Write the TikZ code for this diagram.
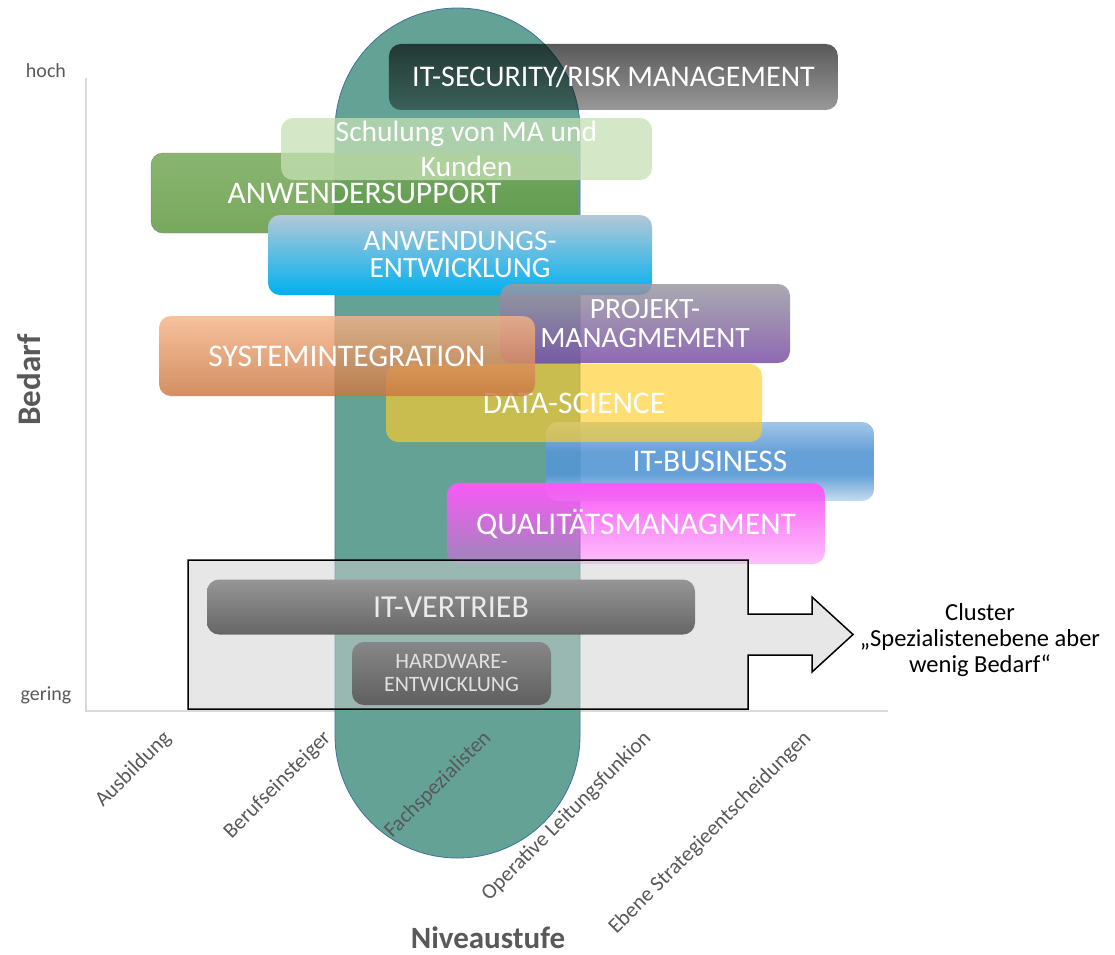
\documentclass[tikz,border=0pt]{standalone}
\usepackage{fontspec}
\setmainfont{Carlito}
\usetikzlibrary{fadings}
\definecolor{axisgray}{RGB}{89,89,89}
\definecolor{axisline}{RGB}{217,217,217}
\definecolor{stadiumteal}{RGB}{100,162,150}
\definecolor{stadiumedge}{RGB}{65,113,156}
\definecolor{supA}{RGB}{117,168,88}
\definecolor{supB}{RGB}{168,192,146}
\definecolor{supC}{RGB}{96,153,64}
\definecolor{schulung}{RGB}{197,224,180}
\definecolor{entwA}{RGB}{180,200,215}
\definecolor{entwB}{RGB}{0,176,240}
\definecolor{projA}{RGB}{155,155,162}
\definecolor{projB}{RGB}{140,118,170}
\definecolor{projC}{RGB}{122,78,168}
\definecolor{sysA}{RGB}{244,180,136}
\definecolor{sysC}{RGB}{202,118,64}
\definecolor{datasci}{RGB}{255,204,40}
\definecolor{busA}{RGB}{150,192,230}
\definecolor{busB}{RGB}{85,150,212}
\definecolor{busC}{RGB}{192,216,238}
\definecolor{qual}{RGB}{250,90,245}
\definecolor{vertA}{RGB}{150,150,150}
\definecolor{vertC}{RGB}{102,102,102}
\definecolor{hwA}{RGB}{135,135,135}
\definecolor{hwC}{RGB}{95,95,95}
\definecolor{clusterfill}{RGB}{207,207,207}
\tikzfading[name=fadedown, top color=transparent!0, middle color=transparent!5, bottom color=transparent!62]
\tikzfading[name=fadesec, top color=transparent!35, middle color=transparent!0, bottom color=transparent!60]
\pgfdeclareverticalshading{busshade}{100bp}{color(0bp)=(busC); color(25bp)=(busC); color(42bp)=(busB); color(56bp)=(busB); color(75bp)=(busA); color(100bp)=(busA)}
\begin{document}
\begin{tikzpicture}[x=1pt,y=1pt,yscale=-1,
  skill/.style={rounded corners=12pt, inner sep=0pt, align=center, text=white, text opacity=1, font=\fontsize{31.5}{33}\selectfont},
  twoline/.style={font=\fontsize{29.5}{#1}\selectfont},
  hilo/.style={text=axisgray, font=\fontsize{20}{22}\selectfont},
  level/.style={text=axisgray, rotate=45, anchor=east, inner sep=0pt, font=\fontsize{21.5}{23}\selectfont},
  axistitle/.style={text=axisgray, inner sep=0pt, font=\fontsize{#1}{#1}\selectfont\bfseries}]
\useasboundingbox (0,0) rectangle (1115,954);

% axes
\draw [axisline, line width=1.2pt] (86,78) -- (86,711) -- (888,711);

% Shape: stadium
\draw [fill=stadiumteal, draw=stadiumedge, line width=0.8pt, rounded corners=122.5pt] (335,8) rectangle (580,858);

% skill boxes
\node [skill, minimum width=449pt, minimum height=66pt, fill=black, path fading=fadesec, font=\fontsize{30}{32}\selectfont] (itsec) at (613.5,77) {IT-SECURITY/RISK MANAGEMENT};
\node [skill, minimum width=427pt, minimum height=80pt, top color=supA, middle color=supB, bottom color=supC, draw=black!55, fill opacity=0.85, draw opacity=0.85] (support) at (364.5,193) {ANWENDERSUPPORT};
\node [skill, minimum width=371pt, minimum height=62pt, fill=schulung, fill opacity=0.75, twoline=35] (schulung) at (466.5,149) {Schulung von MA und\\Kunden};
\node [skill, minimum width=384pt, minimum height=80pt, top color=entwA, middle color=entwB, bottom color=entwB, twoline=27] (entw) at (460,255) {ANWENDUNGS-\\ENTWICKLUNG};
\node [skill, minimum width=290pt, minimum height=79pt, top color=projA, middle color=projB, bottom color=projC, fill opacity=0.85, twoline=29] (projekt) at (645,323.5) {PROJEKT-\\MANAGMEMENT};
\node [skill, minimum width=328pt, minimum height=79pt, shading=busshade, fill opacity=0.9] (business) at (710,461.5) {IT-BUSINESS};
\node [skill, minimum width=376pt, minimum height=78pt, fill=datasci, fill opacity=0.65] (datasci) at (574,403) {DATA-SCIENCE};
\node [skill, minimum width=376pt, minimum height=80pt, top color=sysA, bottom color=sysC, fill opacity=0.82] (sysint) at (347,356) {SYSTEMINTEGRATION};
\node [skill, minimum width=378pt, minimum height=81pt, fill=qual, path fading=fadedown] (qualitaet) at (636,523.5) {QUALITÄTSMANAGMENT};

% cluster frame with arrow
\draw [fill=clusterfill, fill opacity=0.5, draw=black, line width=1.5pt] (188,560) -- (748,560) -- (748,614) -- (812,614) -- (812,597) -- (853,634.5) -- (812,672) -- (812,655) -- (748,655) -- (748,709) -- (188,709) -- cycle;

\node [skill, minimum width=488pt, minimum height=55pt, top color=vertA, middle color=vertC, bottom color=vertC, text=black!8, font=\fontsize{32}{34}\selectfont] (vertrieb) at (451,607) {IT-VERTRIEB};
\node [skill, minimum width=199pt, minimum height=63pt, top color=hwA, bottom color=hwC, text=black!12, font=\fontsize{22}{23}\selectfont] (hardware) at (451.5,673.5) {HARDWARE-\\ENTWICKLUNG};

% Text Node
\node [align=center, font=\fontsize{24.5}{26}\selectfont] (cluster) at (980,640) {Cluster\\„Spezialistenebene aber\\wenig Bedarf“};

% axis texts
\node [hilo] (hoch) at (46,71) {hoch};
\node [hilo] (gering) at (46,695) {gering};
\node [axistitle=33, rotate=90] (bedarf) at (29,380) {Bedarf};
\node [axistitle=31] (niveau) at (488,938) {Niveaustufe};

\node [level] (ausbildung) at (168,735) {Ausbildung};
\node [level] (einsteiger) at (328,735) {Berufseinsteiger};
\node [level] (fachspez) at (488,735) {Fachspezialisten};
\node [level] (operativ) at (648,735) {Operative Leitungsfunkion};
\node [level] (strategie) at (808,735) {Ebene Strategieentscheidungen};
\end{tikzpicture}
\end{document}
